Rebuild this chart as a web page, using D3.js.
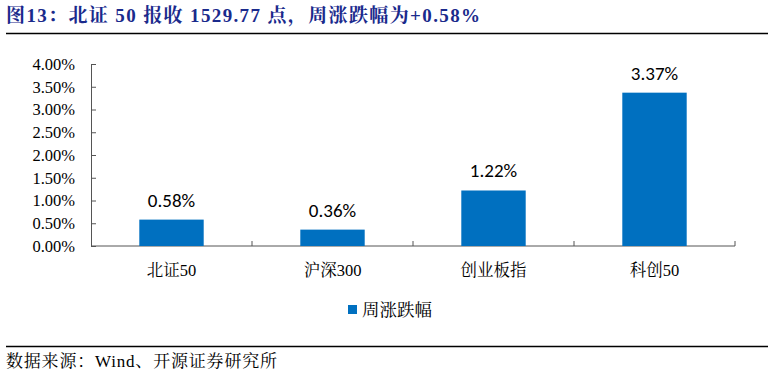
<!DOCTYPE html>
<html>
<head>
<meta charset="utf-8">
<script src="https://cdn.jsdelivr.net/npm/d3@7"></script>
<style>
  body { margin: 0; background: #fff; }
  svg { display: block; }
</style>
</head>
<body>
<svg id="chart" width="774" height="376"></svg>
<script>
const categories = ["北证50", "沪深300", "创业板指", "科创50"];
const weeklyChange = [0.58, 0.36, 1.22, 3.37];
const yTicks = [0, 0.5, 1, 1.5, 2, 2.5, 3, 3.5, 4];
const seriesName = "周涨跌幅";
const titleText = "图13：北证 50 报收 1529.77 点，周涨跌幅为+0.58%";
const sourceText = "数据来源：Wind、开源证券研究所";

const serif = "'Times New Roman', 'Liberation Serif', 'Noto Serif CJK SC', 'Noto Sans CJK SC', serif";
const sans = "Calibri, Carlito, 'Noto Sans', 'Open Sans', sans-serif";
const barColor = "#0070c0";

const svg = d3.select("#chart");

// title + rule
svg.append("text")
  .attr("x", 6).attr("y", 22)
  .attr("font-family", serif)
  .attr("font-weight", "bold")
  .attr("font-size", 19)
  .attr("fill", "#1a2a8c")
  .attr("textLength", 474)
  .attr("lengthAdjust", "spacing")
  .text(titleText);

svg.append("line")
  .attr("x1", 6).attr("x2", 768)
  .attr("y1", 33.5).attr("y2", 33.5)
  .attr("stroke", "#000").attr("stroke-width", 1.5);

const x = d3.scaleBand()
  .domain(categories)
  .range([91, 735])
  .paddingInner(0.6)
  .paddingOuter(0.3);

const y = d3.scaleLinear()
  .domain([0, 4])
  .range([246, 64]);

// y axis
const yAxis = svg.append("g")
  .attr("transform", "translate(91,0)")
  .call(d3.axisRight(y).tickValues(yTicks).tickSize(5).tickFormat(""));
yAxis.select(".domain").attr("stroke", "#555");
yAxis.selectAll(".tick line").attr("stroke", "#555");

svg.append("g").selectAll("text")
  .data(yTicks)
  .join("text")
  .attr("x", 75)
  .attr("y", d => y(d))
  .attr("dy", "0.35em")
  .attr("text-anchor", "end")
  .attr("font-family", serif)
  .attr("font-size", 16.5)
  .attr("fill", "#000")
  .text(d => d3.format(".2f")(d) + "%");

// x axis with boundary ticks pointing up
const xLeft = 91, xRight = 735;
const bounds = d3.range(categories.length + 1).map(i => xLeft + i * (xRight - xLeft) / categories.length);
svg.append("line")
  .attr("x1", xLeft).attr("x2", xRight)
  .attr("y1", y(0)).attr("y2", y(0))
  .attr("stroke", "#555");
svg.append("g").selectAll("line")
  .data(bounds.slice(1))
  .join("line")
  .attr("x1", d => d).attr("x2", d => d)
  .attr("y1", y(0)).attr("y2", y(0) - 5)
  .attr("stroke", "#555");

// bars
svg.append("g").selectAll("rect")
  .data(categories)
  .join("rect")
  .attr("x", d => x(d))
  .attr("width", x.bandwidth())
  .attr("y", (d, i) => y(weeklyChange[i]))
  .attr("height", (d, i) => y(0) - y(weeklyChange[i]))
  .attr("fill", barColor);

// value labels
svg.append("g").selectAll("text")
  .data(categories)
  .join("text")
  .attr("x", d => x(d) + x.bandwidth() / 2)
  .attr("y", (d, i) => y(weeklyChange[i]) - 13)
  .attr("text-anchor", "middle")
  .attr("font-family", sans)
  .attr("font-size", 19)
  .attr("fill", "#000")
  .text((d, i) => d3.format(".2f")(weeklyChange[i]) + "%");

// category labels
svg.append("g").selectAll("text")
  .data(categories)
  .join("text")
  .attr("x", d => x(d) + x.bandwidth() / 2)
  .attr("y", 276)
  .attr("text-anchor", "middle")
  .attr("font-family", serif)
  .attr("font-size", 16.5)
  .attr("fill", "#000")
  .text(d => d);

// legend
svg.append("rect")
  .attr("x", 348).attr("y", 305)
  .attr("width", 9).attr("height", 9)
  .attr("fill", barColor);
svg.append("text")
  .attr("x", 362).attr("y", 315.5)
  .attr("font-family", serif)
  .attr("font-size", 17.5)
  .attr("fill", "#000")
  .text(seriesName);

// source rule + text
svg.append("line")
  .attr("x1", 6).attr("x2", 768)
  .attr("y1", 346.5).attr("y2", 346.5)
  .attr("stroke", "#000").attr("stroke-width", 1.5);
svg.append("text")
  .attr("x", 6).attr("y", 367)
  .attr("font-family", serif)
  .attr("font-size", 17)
  .attr("fill", "#000")
  .attr("textLength", 271)
  .attr("lengthAdjust", "spacing")
  .text(sourceText);
</script>
</body>
</html>
